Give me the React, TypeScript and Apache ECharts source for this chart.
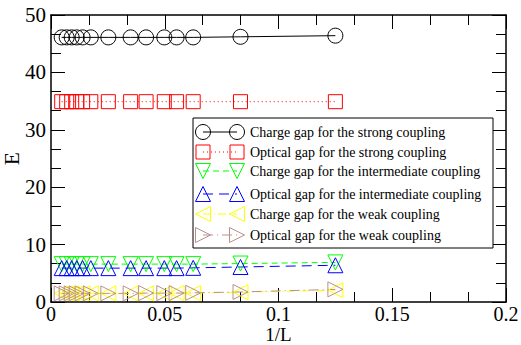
import React, { useEffect, useRef } from "react";
import * as echarts from "echarts";

// 1/L values (shared by all series)
const invL = [0.0047, 0.0069, 0.0091, 0.0113, 0.0139, 0.0175, 0.0252, 0.035, 0.0418, 0.0498, 0.0552, 0.0625, 0.0833, 0.125];

const chargeStrong = [46.1, 46.1, 46.1, 46.1, 46.1, 46.1, 46.1, 46.1, 46.1, 46.1, 46.1, 46.1, 46.2, 46.4];
const opticalStrong = [34.9, 34.9, 34.9, 34.9, 34.9, 34.9, 34.9, 34.9, 34.9, 34.9, 34.9, 34.9, 34.9, 34.9];
const chargeInter = [6.6, 6.6, 6.6, 6.6, 6.6, 6.6, 6.6, 6.6, 6.6, 6.6, 6.6, 6.6, 6.7, 6.9];
const opticalInter = [5.9, 5.9, 5.9, 5.9, 5.9, 5.9, 5.9, 5.9, 5.9, 5.9, 5.9, 5.95, 6.1, 6.4];
const chargeWeak = [1.5, 1.5, 1.5, 1.5, 1.5, 1.5, 1.5, 1.5, 1.5, 1.5, 1.55, 1.55, 1.7, 2.05];
const opticalWeak = [1.5, 1.5, 1.5, 1.5, 1.5, 1.5, 1.5, 1.5, 1.55, 1.55, 1.55, 1.6, 1.75, 2.2];

const xTicks = [0, 0.05, 0.1, 0.15, 0.2];
const yTicks = [0, 10, 20, 30, 40, 50];

const seriesNames = [
  "Charge gap for the strong coupling",
  "Optical gap for the strong coupling",
  "Charge gap for the intermediate coupling",
  "Optical gap for the intermediate coupling",
  "Charge gap for the weak coupling",
  "Optical gap for the weak coupling",
];

const FONT = "'Liberation Serif', 'Times New Roman', serif";

export default function App() {
  const ref = useRef<HTMLDivElement>(null);
  useEffect(() => {
    document.body.style.margin = "0";
    const chart = echarts.init(ref.current!, null, { renderer: "svg" });

    const styles = [
      { color: "#000000", symbol: "circle", size: 15, rot: 0, dash: "solid" as any },
      { color: "#ff0000", symbol: "rect", size: 14, rot: 0, dash: [1, 3] },
      { color: "#00ff00", symbol: "triangle", size: 15, rot: 180, dash: [6, 4] },
      { color: "#0000ff", symbol: "triangle", size: 15, rot: 0, dash: [10, 6] },
      { color: "#ffff00", symbol: "triangle", size: 15, rot: 90, dash: [8, 3, 1, 3] },
      { color: "#bc8f8f", symbol: "triangle", size: 15, rot: -90, dash: [10, 4, 1, 4] },
    ];
    const values = [chargeStrong, opticalStrong, chargeInter, opticalInter, chargeWeak, opticalWeak];

    const series = values.map((vals, i) => ({
      type: "line",
      name: seriesNames[i],
      data: vals.map((v, j) => [invL[j], v]),
      symbol: styles[i].symbol,
      symbolSize: styles[i].size,
      symbolRotate: styles[i].rot,
      showAllSymbol: true,
      lineStyle: { color: styles[i].color, width: 1, type: styles[i].dash },
      itemStyle: { color: "rgba(0,0,0,0)", borderColor: styles[i].color, borderWidth: 1 },
      emphasis: { disabled: true },
      z: 3,
    }));

    const axisCommon = {
      axisLine: { show: true, onZero: false, lineStyle: { color: "#000", width: 1.5 } },
      axisTick: { show: true, inside: true, length: 14, lineStyle: { color: "#000", width: 1 } },
      minorTick: { show: true, splitNumber: 3, length: 10, lineStyle: { color: "#000", width: 1 } },
      splitLine: { show: false },
    };

    // legend drawn as graphic
    const lx1 = 203, lx2 = 237, tx = 250;
    const rowsY = [132, 152, 171, 194, 214, 235];
    const triPts = (cx: number, cy: number, dir: string) => {
      const h = 7.5;
      if (dir === "up") return [[cx, cy - h], [cx + h, cy + h], [cx - h, cy + h]];
      if (dir === "down") return [[cx, cy + h], [cx + h, cy - h], [cx - h, cy - h]];
      if (dir === "left") return [[cx - h, cy], [cx + h, cy - h], [cx + h, cy + h]];
      return [[cx + h, cy], [cx - h, cy - h], [cx - h, cy + h]];
    };
    const symEl = (i: number, cx: number, cy: number) => {
      const st = { fill: "none", stroke: styles[i].color, lineWidth: 1 };
      if (i === 0) return { type: "circle", shape: { cx, cy, r: 7.5 }, style: st, z: 12 };
      if (i === 1) return { type: "rect", shape: { x: cx - 7, y: cy - 7, width: 14, height: 14 }, style: st, z: 12 };
      const dir = ["", "", "down", "up", "left", "right"][i];
      return { type: "polygon", shape: { points: triPts(cx, cy, dir) }, style: st, z: 12 };
    };
    const legendEls: any[] = [
      { type: "rect", shape: { x: 193, y: 118, width: 300, height: 130 }, style: { fill: "#fff", stroke: "#000", lineWidth: 1 }, z: 10 },
    ];
    seriesNames.forEach((name, i) => {
      const y = rowsY[i];
      legendEls.push({
        type: "line",
        shape: { x1: lx1, y1: y, x2: lx2, y2: y },
        style: { stroke: styles[i].color, lineWidth: 1, lineDash: styles[i].dash === "solid" ? null : styles[i].dash },
        z: 11,
      });
      legendEls.push(symEl(i, lx1, y));
      legendEls.push(symEl(i, lx2, y));
      legendEls.push({
        type: "text",
        x: tx,
        y,
        style: { text: name, fill: "#000", fontSize: 14, fontFamily: FONT, verticalAlign: "middle" },
        z: 12,
      });
    });

    chart.setOption({
      animation: false,
      backgroundColor: "#fff",
      textStyle: { fontFamily: FONT },
      grid: { left: 51, top: 15, width: 455, height: 287, containLabel: false, outerBoundsMode: "none" },
      xAxis: [
        {
          type: "value",
          min: xTicks[0],
          max: xTicks[xTicks.length - 1],
          interval: xTicks[1] - xTicks[0],
          position: "bottom",
          name: "1/L",
          nameLocation: "middle",
          nameGap: 23,
          nameMoveOverlap: false,
          nameTextStyle: { fontSize: 19, lineHeight: 19, color: "#000", fontFamily: FONT },
          axisLabel: { show: true, fontSize: 20, lineHeight: 20, color: "#000", margin: 2, fontFamily: FONT, formatter: (v: number) => String(+v.toFixed(3)) },
          ...axisCommon,
        },
        {
          type: "value",
          min: xTicks[0],
          max: xTicks[xTicks.length - 1],
          interval: xTicks[1] - xTicks[0],
          position: "top",
          axisLabel: { show: false },
          ...axisCommon,
        },
      ],
      yAxis: [
        {
          type: "value",
          min: yTicks[0],
          max: yTicks[yTicks.length - 1],
          interval: yTicks[1] - yTicks[0],
          position: "left",
          name: "E",
          nameLocation: "middle",
          nameGap: 29,
          nameMoveOverlap: false,
          nameTextStyle: { fontSize: 21, color: "#000", fontFamily: FONT },
          axisLabel: { show: true, fontSize: 21, color: "#000", margin: 5, fontFamily: FONT },
          ...axisCommon,
        },
        {
          type: "value",
          min: yTicks[0],
          max: yTicks[yTicks.length - 1],
          interval: yTicks[1] - yTicks[0],
          position: "right",
          axisLabel: { show: false },
          ...axisCommon,
        },
      ],
      series,
      graphic: legendEls,
    });
    return () => chart.dispose();
  }, []);
  return <div ref={ref} style={{ width: 521, height: 345 }} />;
}
